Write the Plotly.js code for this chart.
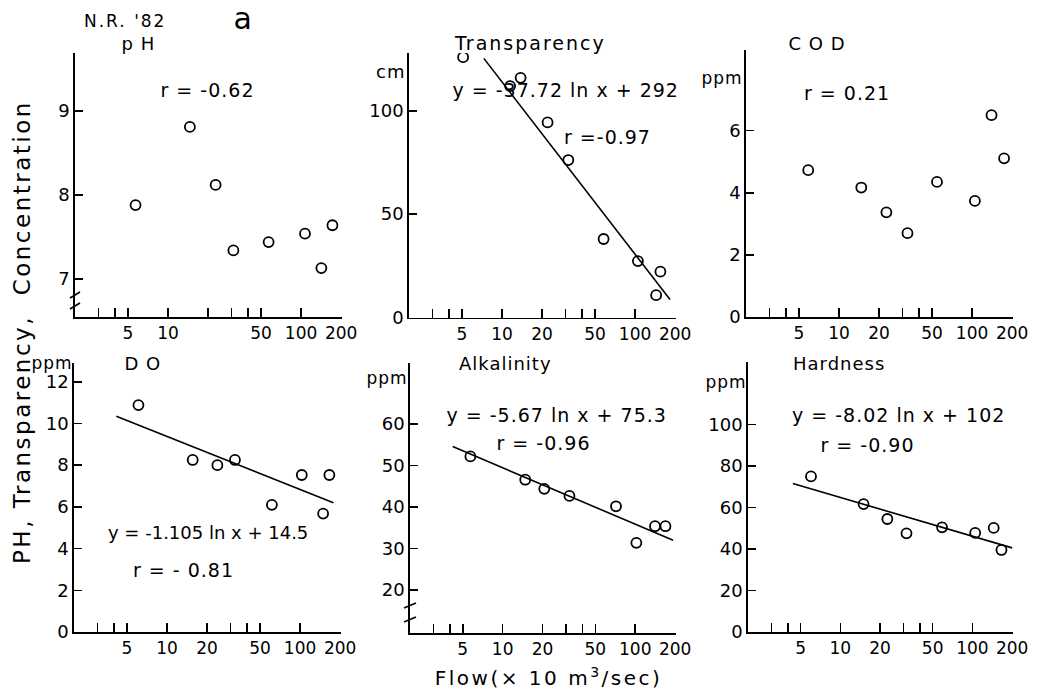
<!DOCTYPE html>
<html>
<head>
<meta charset="utf-8">
<script src="https://cdn.plot.ly/plotly-3.0.1.min.js"></script>
<style>
  html, body { margin: 0; padding: 0; background: #fff; }
  #chart { width: 1048px; height: 695px; }
  g.annotation text { letter-spacing: 1px; }
  g.annotation[data-index="3"] text { letter-spacing: 2px; }
  g.annotation[data-index="0"] text { letter-spacing: 2px; }
  g.annotation[data-index="17"] text { letter-spacing: 0px; }
  g.annotation[data-index="23"] text { letter-spacing: 2.5px; }
  g.annotation[data-index="24"] text { letter-spacing: 2.5px; }
</style>
</head>
<body>
<div id="chart"></div>
<script>
// ---------------- data (flow in x10 m3/sec) ----------------
const phFlow = [5.7, 14.6, 22.8, 31, 57, 107, 142, 172];
const phVal  = [7.88, 8.81, 8.12, 7.34, 7.44, 7.54, 7.13, 7.64];

const trFlow = [5.1, 11.5, 13.8, 22, 31.5, 58, 105, 144, 155];
const trVal  = [126, 112, 116, 94.4, 76.2, 38, 27.3, 10.8, 22.2];
const trFitX = [7.3, 183];
const trFitY = [125.4, 8.7];

const codFlow = [5.87, 14.7, 22.7, 32.7, 54.5, 105, 140, 174];
const codVal  = [4.73, 4.17, 3.37, 2.7, 4.35, 3.74, 6.5, 5.11];

const doFlow = [6.1, 15.6, 23.9, 32.4, 61.4, 103, 149, 166];
const doVal  = [10.88, 8.25, 8.0, 8.25, 6.1, 7.53, 5.68, 7.53];
const doFitX = [4.16, 178];
const doFitY = [10.35, 6.2];

const alkFlow = [5.71, 14.8, 20.6, 31.9, 71.6, 102, 141, 169];
const alkVal  = [52.2, 46.6, 44.4, 42.7, 40.2, 31.4, 35.4, 35.4];
const alkFitX = [4.2, 193];
const alkFitY = [54.6, 32.0];

const hdFlow = [6.0, 15, 22.7, 31.7, 58.9, 105, 145, 166];
const hdVal  = [74.9, 61.6, 54.4, 47.5, 50.4, 47.7, 50.1, 39.5];
const hdFitX = [4.37, 200];
const hdFitY = [71.5, 40.5];

const xMajorVals = [5, 10, 20, 50, 100, 200];
const xMajorText = ['5', '10', '20', '50', '100', '200'];
const xMinorVals = [3, 4, 30, 40];
const xMajorValsPH = [5, 10, 50, 100, 200];
const xMajorTextPH = ['5', '10', '50', '100', '200'];
const xMinorValsPH = [3, 4, 20, 30, 40];

const phTicks = [7, 8, 9];
const trTicks = [0, 50, 100];
const codTicks = [0, 2, 4, 6];
const doTicks = [0, 2, 4, 6, 8, 10, 12];
const alkTicks = [20, 30, 40, 50, 60];
const hdTicks = [0, 20, 40, 60, 80, 100];

// ---------------- helpers ----------------
const W = 1048, H = 695;
const FONT = 'DejaVu Sans, Liberation Sans, sans-serif';
const px = v => v / W;
const py = v => 1 - v / H;

function xax(left, right, vals, text, minorVals) {
  return {
    type: 'log', range: [Math.log10(2), Math.log10(203)],
    domain: [px(left), px(right)],
    showgrid: false, zeroline: false, showline: true, linecolor: '#000', linewidth: 1.8,
    ticks: 'inside', ticklen: 9, tickwidth: 1.5, tickcolor: '#000',
    tickmode: 'array', tickvals: vals, ticktext: text,
    minor: {tickmode: 'array', tickvals: minorVals, ticks: 'inside', ticklen: 9, tickwidth: 1.5, tickcolor: '#000', showgrid: false},
    tickfont: {family: FONT, size: 17, color: '#000'}, fixedrange: true
  };
}
function yax(top, bottom, range, tickvals) {
  return {
    range: range, domain: [py(bottom), py(top)],
    showgrid: false, zeroline: false, showline: true, linecolor: '#000', linewidth: 1.8,
    ticks: 'inside', ticklen: 8, tickwidth: 1.5, tickcolor: '#000',
    tickmode: 'array', tickvals: tickvals,
    tickfont: {family: FONT, size: 18, color: '#000'}, fixedrange: true
  };
}
function pts(x, y, n) {
  return {x: x, y: y, xaxis: 'x' + n, yaxis: 'y' + n, type: 'scatter', mode: 'markers',
    marker: {symbol: 'circle-open', size: 10, color: '#000', line: {width: 1.8, color: '#000'}},
    showlegend: false, hoverinfo: 'skip'};
}
function fit(x, y, n) {
  return {x: x, y: y, xaxis: 'x' + n, yaxis: 'y' + n, type: 'scatter', mode: 'lines',
    line: {color: '#000', width: 1.6}, showlegend: false, hoverinfo: 'skip'};
}
function note(text, x, y, size, extra) {
  return Object.assign({text: text, xref: 'paper', yref: 'paper', x: px(x), y: py(y),
    xanchor: 'center', yanchor: 'middle', showarrow: false,
    font: {family: FONT, size: size || 19, color: '#000'}}, extra || {});
}

const data = [
  pts(phFlow, phVal, ''),
  pts(trFlow, trVal, 2), fit(trFitX, trFitY, 2),
  pts(codFlow, codVal, 3),
  pts(doFlow, doVal, 4), fit(doFitX, doFitY, 4),
  pts(alkFlow, alkVal, 5), fit(alkFitX, alkFitY, 5),
  pts(hdFlow, hdVal, 6), fit(hdFitX, hdFitY, 6)
];

const layout = {
  width: W, height: H, margin: {l: 0, r: 0, t: 0, b: 0},
  paper_bgcolor: '#fff', plot_bgcolor: 'rgba(0,0,0,0)', showlegend: false,
  xaxis:  Object.assign(xax(75, 342, xMajorValsPH, xMajorTextPH, xMinorValsPH), {anchor: 'y'}),
  yaxis:  Object.assign(yax(53, 317, [6.548, 9.69], phTicks), {anchor: 'x'}),
  xaxis2: Object.assign(xax(409, 676, xMajorVals, xMajorText, xMinorVals), {anchor: 'y2'}),
  yaxis2: Object.assign(yax(53, 317.5, [0, 128], trTicks), {anchor: 'x2'}),
  xaxis3: Object.assign(xax(746, 1013, xMajorVals, xMajorText, xMinorVals), {anchor: 'y3'}),
  yaxis3: Object.assign(yax(50, 317, [0, 8.6], codTicks), {anchor: 'x3'}),
  xaxis4: Object.assign(xax(74, 341, xMajorVals, xMajorText, xMinorVals), {anchor: 'y4'}),
  yaxis4: Object.assign(yax(363, 632, [0, 12.9], doTicks), {anchor: 'x4'}),
  xaxis5: Object.assign(xax(410, 676, xMajorVals, xMajorText, xMinorVals), {anchor: 'y5'}),
  yaxis5: Object.assign(yax(363, 633, [9.69, 74.7], alkTicks), {anchor: 'x5'}),
  xaxis6: Object.assign(xax(748, 1013, xMajorVals, xMajorText, xMinorVals), {anchor: 'y6'}),
  yaxis6: Object.assign(yax(362, 632, [0, 130], hdTicks), {anchor: 'x6'}),
  annotations: [
    note("N.R. '82", 125, 21, 17),
    note('a', 243, 18, 30),
    note('p H', 138, 43, 18),
    note('Transparency', 530, 43, 19),
    note('C O D', 817, 43, 18),
    note('D O', 143, 363, 18),
    note('Alkalinity', 505, 363, 18),
    note('Hardness', 839, 363, 18),
    note('cm', 390, 72, 18),
    note('ppm', 722, 78, 17),
    note('ppm', 52, 363, 17),
    note('ppm', 387, 378, 17),
    note('ppm', 726, 382, 17),
    note('r = -0.62', 207, 90),
    note('y = -37.72 ln x + 292', 565, 90),
    note('r =-0.97', 607, 137),
    note('r = 0.21', 847, 93),
    note('y = -1.105 ln x + 14.5', 208, 532, 18),
    note('r = - 0.81', 183, 570),
    note('y = -5.67 ln x + 75.3', 556, 415),
    note('r = -0.96', 543, 443),
    note('y = -8.02 ln x + 102', 898, 415),
    note('r = -0.90', 867, 445),
    note('PH, Transparency,  Concentration', 22, 332, 23, {textangle: -90}),
    note('Flow(× 10 m<sup>3</sup>/sec)', 548, 677, 20)
  ],
  shapes: [
    {type: 'line', xref: 'paper', yref: 'paper', x0: px(70), y0: py(298), x1: px(80), y1: py(292), line: {color: '#000', width: 1.6}},
    {type: 'line', xref: 'paper', yref: 'paper', x0: px(70), y0: py(309), x1: px(80), y1: py(303), line: {color: '#000', width: 1.6}},
    {type: 'line', xref: 'paper', yref: 'paper', x0: px(404), y0: py(608), x1: px(416), y1: py(603), line: {color: '#000', width: 1.6}},
    {type: 'line', xref: 'paper', yref: 'paper', x0: px(404), y0: py(622), x1: px(416), y1: py(617), line: {color: '#000', width: 1.6}}
  ]
};

Plotly.newPlot('chart', data, layout, {staticPlot: true, displayModeBar: false});
</script>
</body>
</html>
